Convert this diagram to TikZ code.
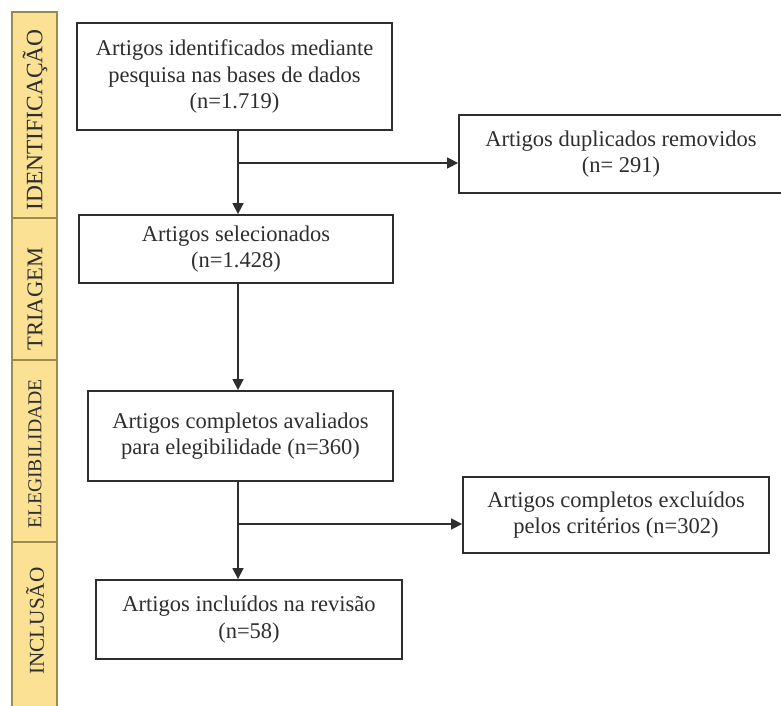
\documentclass[tikz,border=0pt]{standalone}
\usepackage{fontspec}
\setmainfont{Liberation Serif}
\usetikzlibrary{arrows.meta,calc}
\definecolor{barfill}{HTML}{FAE194}
\definecolor{barline}{HTML}{9C8A4E}
\definecolor{ink}{HTML}{2E2E2E}
\begin{document}
\begin{tikzpicture}[x=1pt,y=-1pt,
  flowbox/.style={draw=ink,line width=1.8pt,fill=white,inner sep=0pt,align=center,
    text=ink,font=\fontsize{22.5}{26.5}\selectfont},
  conn/.style={draw=ink,line width=1.5pt},
  arr/.style={conn,-{Triangle[length=11pt,width=11pt]}},
  phase/.style={rotate=90,text=ink,inner sep=0pt}
]
\useasboundingbox[fill=white] (0,0) rectangle (781,706);
% side bar
\path[fill=barfill,draw=barline,line width=1.2pt] (12,12) rectangle (57,708);
\draw[barline,line width=1.2pt] (12,218) -- (57,218);
\draw[barline,line width=1.2pt] (12,360) -- (57,360);
\draw[barline,line width=1.2pt] (12,542) -- (57,542);
\node[phase,font=\fontsize{23.5}{23.5}\selectfont] (pid) at (35,120) {IDENTIFICAÇÃO};
\node[phase,font=\fontsize{22.5}{22.5}\selectfont] (ptr) at (35,299) {TRIAGEM};
\node[phase,font=\fontsize{19.7}{19.7}\selectfont] (pel) at (35,454) {ELEGIBILIDADE};
\node[phase,font=\fontsize{21.2}{21.2}\selectfont] (pin) at (35,621) {INCLUSÃO};
% boxes
\node[flowbox,minimum width=315pt,minimum height=107pt] (b1) at (234.5,76.5)
  {Artigos identificados mediante\\pesquisa nas bases de dados\\(n=1.719)};
\node[flowbox,minimum width=314pt,minimum height=68pt] (b2) at (236,249)
  {Artigos selecionados\\(n=1.428)};
\node[flowbox,minimum width=305pt,minimum height=90pt] (b3) at (240.5,436)
  {Artigos completos avaliados\\para elegibilidade (n=360)};
\node[flowbox,minimum width=306pt,minimum height=79pt] (b4) at (249,619.5)
  {Artigos incluídos na revisão\\(n=58)};
\node[flowbox,minimum width=324pt,minimum height=78pt] (dup) at (621,154)
  {Artigos duplicados removidos\\(n= 291)};
\node[flowbox,minimum width=306pt,minimum height=76pt] (exc) at (616,515)
  {Artigos completos excluídos\\pelos critérios (n=302)};
% connectors
\coordinate (t1) at (238,130);
\coordinate (j1) at (238,163);
\coordinate (t3) at (238,481);
\coordinate (j2) at (238,524);
\draw[arr] (t1) -- (t1 |- b2.north);
\draw[arr] (j1) -- (j1 -| dup.west);
\draw[arr] (t1 |- b2.south) -- (t1 |- b3.north);
\draw[arr] (t3) -- (t3 |- b4.north);
\draw[arr] (j2) -- (j2 -| exc.west);
\end{tikzpicture}
\end{document}
